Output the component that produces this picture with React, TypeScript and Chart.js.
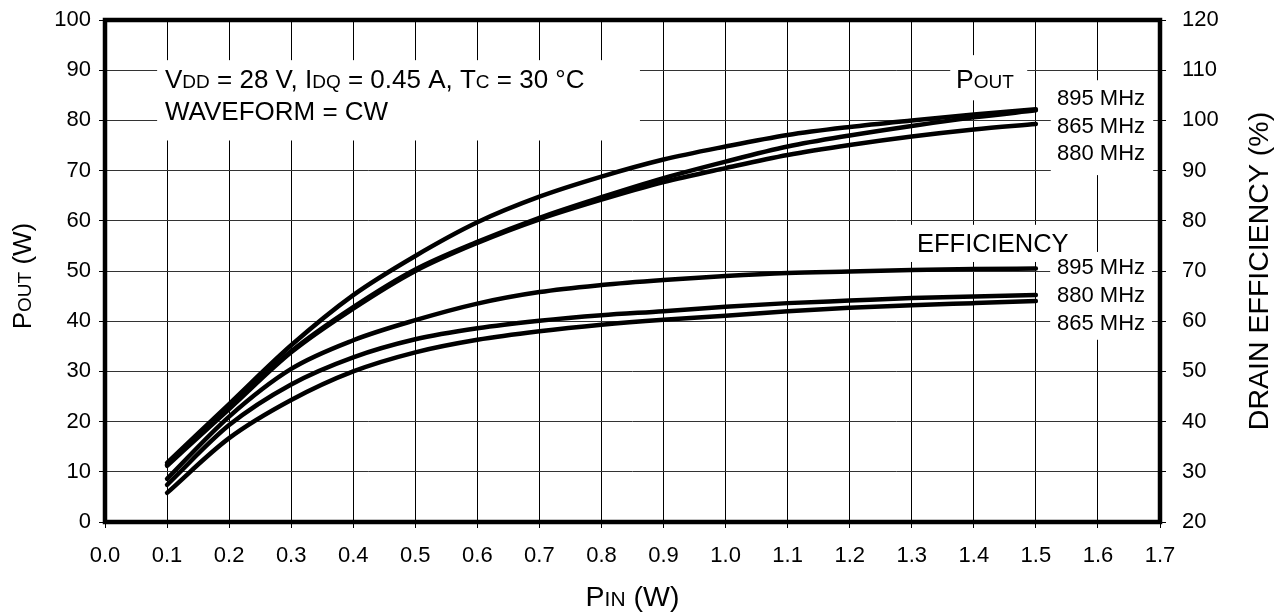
import React, { useEffect, useRef } from 'react';
import { Chart, registerables } from 'chart.js';
Chart.register(...registerables);

// ---- data ----
const pin = [0.1, 0.2, 0.3, 0.4, 0.5, 0.6, 0.7, 0.8, 0.9, 1.0, 1.1, 1.2, 1.3, 1.4, 1.5];
const pout895 = [11.8, 23.5, 35.2, 45.2, 53.0, 59.7, 64.8, 68.8, 72.2, 74.8, 77.1, 78.7, 80.0, 81.2, 82.2];
const pout865 = [11.4, 22.8, 34.0, 42.8, 50.3, 55.8, 60.6, 64.7, 68.5, 71.8, 74.8, 77.0, 78.9, 80.6, 82.0];
const pout880 = [11.2, 22.5, 33.8, 42.5, 50.0, 55.6, 60.3, 64.2, 67.7, 70.5, 73.1, 75.1, 76.8, 78.2, 79.3];
const eff895 = [28.6, 41.0, 50.5, 56.2, 60.2, 63.5, 65.8, 67.2, 68.2, 69.0, 69.6, 69.9, 70.2, 70.4, 70.5];
const eff880 = [27.4, 39.3, 47.4, 52.8, 56.4, 58.6, 60.1, 61.2, 62.0, 62.9, 63.6, 64.1, 64.6, 64.9, 65.2];
const eff865 = [25.8, 36.7, 44.3, 50.0, 53.8, 56.3, 58.0, 59.3, 60.3, 61.1, 62.0, 62.7, 63.2, 63.6, 64.0];

const poutLabels = ['895 MHz', '865 MHz', '880 MHz'];
const effLabels = ['895 MHz', '880 MHz', '865 MHz'];

const FONT = '"Liberation Sans", Arial, Helvetica, sans-serif';

type Part = { t: string; s: boolean };

function drawParts(ctx: CanvasRenderingContext2D, parts: Part[], x: number, y: number, big: number, small: number, align: 'left' | 'center') {
  let total = 0;
  for (const p of parts) {
    ctx.font = `${p.s ? small : big}px ${FONT}`;
    total += ctx.measureText(p.t).width;
  }
  let cx = align === 'center' ? x - total / 2 : x;
  ctx.textAlign = 'left';
  ctx.textBaseline = 'alphabetic';
  for (const p of parts) {
    ctx.font = `${p.s ? small : big}px ${FONT}`;
    ctx.fillText(p.t, cx, y);
    cx += ctx.measureText(p.t).width;
  }
}

const decor = {
  id: 'decor',
  beforeDatasetsDraw(chart: any) {
    const { ctx } = chart;
    const sx = chart.scales.x;
    const sy = chart.scales.y;
    const box = (x0: number, x1: number, y0: number, y1: number) => {
      const a = sx.getPixelForValue(x0), b = sx.getPixelForValue(x1);
      const c = sy.getPixelForValue(y0), d = sy.getPixelForValue(y1);
      ctx.fillRect(a, c, b - a, d - c);
    };
    ctx.save();
    ctx.fillStyle = '#fff';
    box(0.084, 0.862, 92.0, 76.0);
    box(1.362, 1.486, 93.0, 84.0);
    box(1.524, 1.689, 88.0, 69.1);
    box(1.289, 1.523, 59.2, 51.8);
    box(1.523, 1.687, 53.8, 36.3);
    ctx.restore();
  },
  afterDraw(chart: any) {
    const { ctx, chartArea } = chart;
    ctx.save();
    ctx.fillStyle = '#000';
    // frame
    ctx.strokeStyle = '#000';
    ctx.lineWidth = 4.5;
    ctx.strokeRect(chartArea.left, chartArea.top, chartArea.right - chartArea.left, chartArea.bottom - chartArea.top);

    // condition text
    drawParts(ctx, [
      { t: 'V', s: false }, { t: 'DD', s: true }, { t: ' = 28 V, I', s: false }, { t: 'DQ', s: true },
      { t: ' = 0.45 A, T', s: false }, { t: 'C', s: true }, { t: ' = 30 °C', s: false },
    ], 165, 88, 26, 19, 'left');
    drawParts(ctx, [{ t: 'WAVEFORM = CW', s: false }], 165, 120, 26, 19, 'left');

    drawParts(ctx, [{ t: 'P', s: false }, { t: 'OUT', s: true }], 956, 88, 26.5, 19, 'left');
    drawParts(ctx, [{ t: 'EFFICIENCY', s: false }], 917, 252, 25.5, 19, 'left');

    ctx.font = `22px ${FONT}`;
    ctx.textAlign = 'left';
    ctx.textBaseline = 'alphabetic';
    const pb = [105, 133, 160];
    poutLabels.forEach((l, i) => ctx.fillText(l, 1057, pb[i]));
    const eb = [274, 302, 330];
    effLabels.forEach((l, i) => ctx.fillText(l, 1057, eb[i]));

    // axis titles
    const midY = (chartArea.top + chartArea.bottom) / 2;
    ctx.save();
    ctx.translate(22 + 9, midY + 5);
    ctx.rotate(-Math.PI / 2);
    drawParts(ctx, [{ t: 'P', s: false }, { t: 'OUT', s: true }, { t: ' (W)', s: false }], 0, 0, 26, 19, 'center');
    ctx.restore();

    ctx.save();
    ctx.translate(1258 + 10, midY);
    ctx.rotate(-Math.PI / 2);
    drawParts(ctx, [{ t: 'DRAIN EFFICIENCY (%)', s: false }], 0, 0, 28.5, 19, 'center');
    ctx.restore();

    const midX = (chartArea.left + chartArea.right) / 2;
    drawParts(ctx, [{ t: 'P', s: false }, { t: 'IN', s: true }, { t: ' (W)', s: false }], midX, 606, 28.5, 21, 'center');
    ctx.restore();
  },
};

export default function App() {
  const ref = useRef<HTMLCanvasElement>(null);
  useEffect(() => {
    const line = (d: number[], axis: string) => ({
      data: pin.map((x, i) => ({ x, y: d[i] })),
      yAxisID: axis,
      borderColor: '#000',
      borderWidth: 4.5,
      borderCapStyle: 'round',
      pointRadius: 0,
      cubicInterpolationMode: 'monotone',
      fill: false,
    });
    const tickFont = { family: FONT, size: 22 };
    const vFit = (w: number) => (s: any) => { s.width = w; s.paddingTop = 0; s.paddingBottom = 0; };
    const chart = new Chart(ref.current!, {
      type: 'line',
      data: {
        datasets: [
          line(pout895, 'y'), line(pout865, 'y'), line(pout880, 'y'),
          line(eff895, 'y2'), line(eff880, 'y2'), line(eff865, 'y2'),
        ] as any,
      },
      options: {
        animation: false,
        responsive: false,
        devicePixelRatio: 1,
        layout: { padding: { top: 20, left: 0, right: 0, bottom: 0 } },
        plugins: { legend: { display: false }, tooltip: { enabled: false } },
        scales: {
          x: {
            type: 'linear', min: 0, max: 1.7,
            afterFit: (s: any) => { s.height = 92; s.paddingLeft = 0; s.paddingRight = 0; },
            ticks: { stepSize: 0.1, color: '#000', font: tickFont, padding: 15, maxRotation: 0, autoSkip: false,
              callback: (v: any) => Number(v).toFixed(1) },
            grid: { color: '#000', lineWidth: 1, tickLength: 6, tickColor: '#000' },
            border: { display: false },
          },
          y: {
            type: 'linear', position: 'left', min: 0, max: 100,
            afterFit: vFit(105),
            ticks: { stepSize: 10, color: '#000', font: tickFont, padding: 8 },
            grid: { color: '#333', lineWidth: 1, tickLength: 6, tickColor: '#000' },
            border: { display: false },
          },
          y2: {
            type: 'linear', position: 'right', min: 20, max: 120,
            afterFit: vFit(114),
            ticks: { stepSize: 10, color: '#000', font: tickFont, padding: 16 },
            grid: { drawOnChartArea: false, tickLength: 6, tickColor: '#000' },
            border: { display: false },
          },
        },
      } as any,
      plugins: [decor],
    });
    return () => chart.destroy();
  }, []);
  return (
    <div style={{ position: 'absolute', left: 0, top: 0, width: 1274, height: 614, background: '#fff' }}>
      <canvas ref={ref} width={1274} height={614} style={{ display: 'block' }} />
    </div>
  );
}
